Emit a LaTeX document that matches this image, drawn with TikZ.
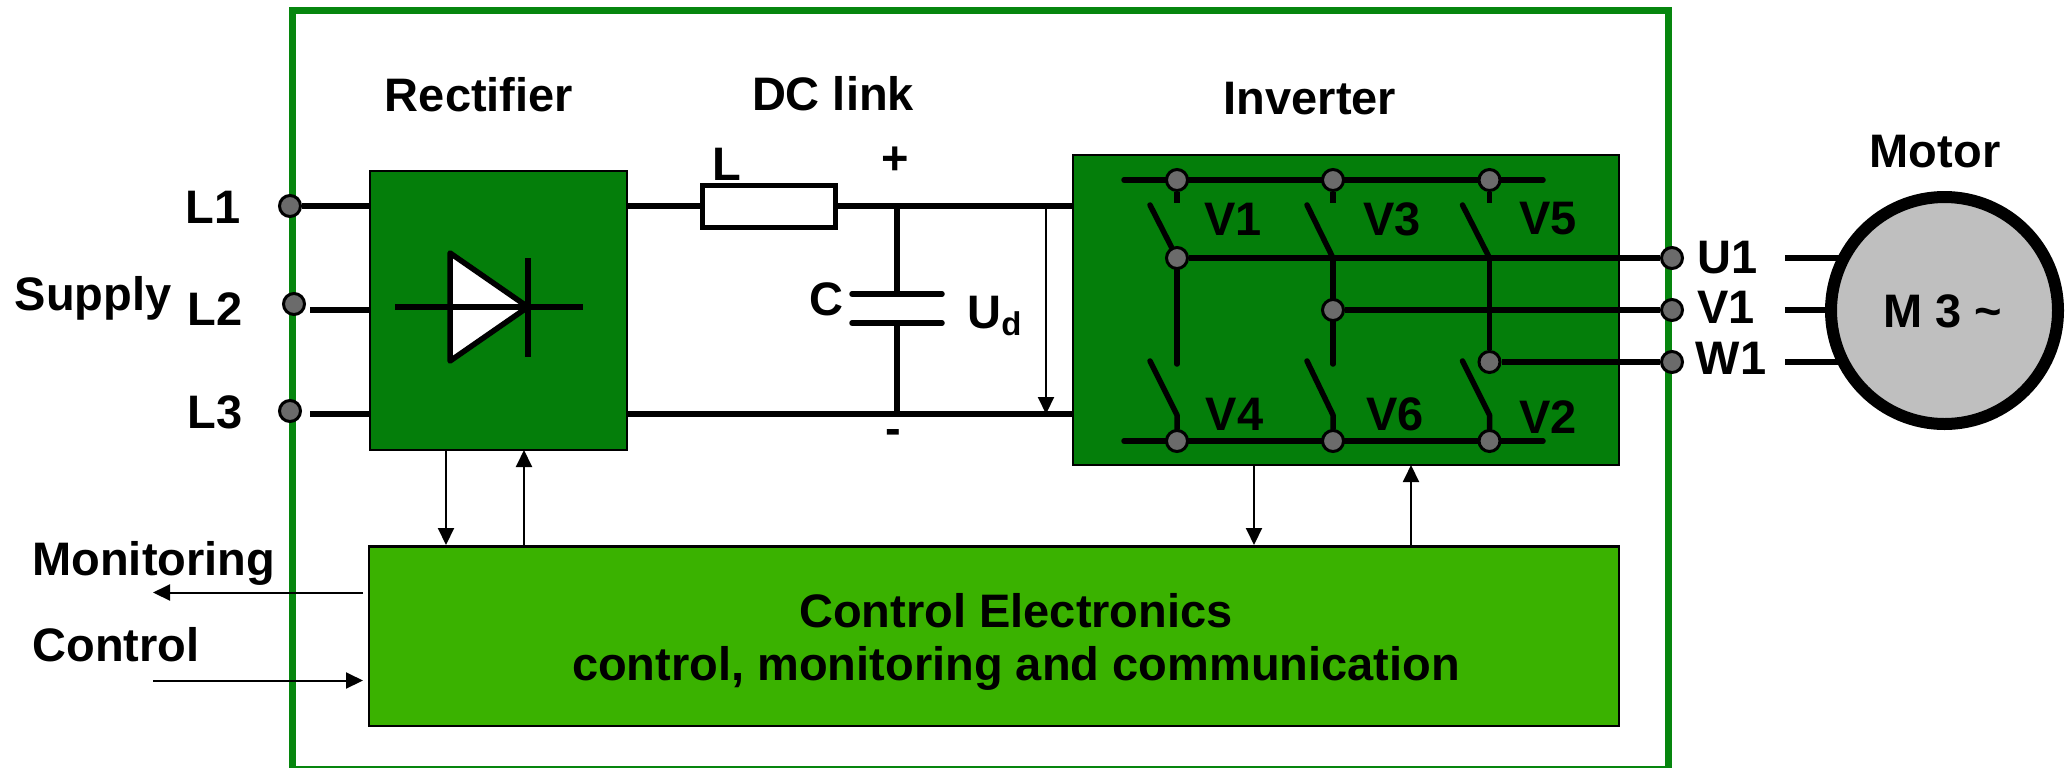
\documentclass[tikz,border=0pt]{standalone}
\usepackage{fontspec}
\setmainfont{Liberation Sans}
\usetikzlibrary{arrows.meta,calc,positioning}

\definecolor{frameGreen}{RGB}{6,134,14}
\definecolor{unitGreen}{RGB}{4,126,10}
\definecolor{ctrlGreen}{RGB}{58,178,0}

\pgfdeclarelayer{blocks}
\pgfdeclarelayer{wires}
\pgfsetlayers{blocks,wires,main}

\begin{document}
\begin{tikzpicture}[x=0.5pt,y=-0.5pt,>=Stealth]
  % --- Unified styles ---
    \tikzset{
      unit/.style    = {rectangle,draw=black,fill=unitGreen,line width=1.25pt,inner sep=0pt},
      ctrl/.style    = {rectangle,draw=black,fill=ctrlGreen,line width=1.25pt,inner sep=0pt},
      term/.style    = {circle,draw=black,fill=black!58,line width=1.5pt,inner sep=0pt,minimum size=10.5pt},
      wire/.style    = {line width=2.75pt},
      sig/.style     = {-{Triangle[length=8.5pt,width=8pt]},line width=1pt},
      lab/.style     = {font=\fontsize{23.5}{26.5}\selectfont\bfseries,inner sep=0pt,align=center}
    }
    \useasboundingbox (0,0) rectangle (2067,767);

    % --- Outer frame and main blocks ---
    \begin{pgfonlayer}{blocks}
    \draw[frameGreen,line width=3.25pt] (292.5,10.5) rectangle (1668.5,769);
    \node[unit,minimum width=128.5pt,minimum height=139.5pt] (rect) at (498.5,310.5) {};
    \node[unit,minimum width=273pt,minimum height=155pt] (inv) at (1346,310) {};
    \node[ctrl,minimum width=625pt,minimum height=89.75pt] (ctl) at (994,636) {};
    \end{pgfonlayer}

    \node[circle,draw=black,fill=black!25,line width=6pt,inner sep=0pt,minimum size=113.5pt] (motor) at (1944.5,310.5) {};

    % --- Terminals ---
    \node[term] (tL1) at (290,206) {};
    \node[term] (tL2) at (294,304) {};
    \node[term] (tL3) at (290,411) {};
    \node[term] (v1top) at (1177,180) {};
    \node[term] (v3top) at (1333,180) {};
    \node[term] (v5top) at (1489.5,180) {};
    \node[term] (v4bot) at (1177,441) {};
    \node[term] (v6bot) at (1333,441) {};
    \node[term] (v2bot) at (1489.5,441) {};
    \node[term] (uMid) at (1177,258) {};
    \node[term] (vMid) at (1333,310) {};
    \node[term] (wMid) at (1489.5,362) {};
    \node[term] (tU) at (1672,258) {};
    \node[term] (tV) at (1672,310) {};
    \node[term] (tW) at (1672,362) {};

    % --- Choke ---
    \node[draw=black,fill=white,line width=2.5pt,inner sep=0pt,minimum width=66.5pt,minimum height=21pt] (choke) at (768.5,206) {};

    % --- Named points ---
    \coordinate (tL2w) at (310,310);
    \coordinate (tL3w) at (310,414);
    \coordinate (dA) at (450,253);
    \coordinate (dB) at (450,361);
    \coordinate (dK) at (528,307);
    \coordinate (dIn) at (395,307);
    \coordinate (dOut) at (583,307);
    \coordinate (dT) at (528,258);
    \coordinate (dD) at (528,357);
    \coordinate (capT) at (897,294);
    \coordinate (capB) at (897,323);
    \coordinate (railT) at (897,206);
    \coordinate (railB) at (897,414);
    \coordinate (capTl) at (852,294);
    \coordinate (capTr) at (942,294);
    \coordinate (capBl) at (852,323);
    \coordinate (capBr) at (942,323);
    \coordinate (udT) at (1046,206);
    \coordinate (udB) at (1046,414);
    \coordinate (busTl) at (1124,180);
    \coordinate (busTr) at (1543,180);
    \coordinate (busBl) at (1124,441);
    \coordinate (busBr) at (1543,441);
    \coordinate (v1stub) at (1177,203);
    \coordinate (v3stub) at (1333,203);
    \coordinate (v5stub) at (1489.5,203);
    \coordinate (v3j) at (1333,258);
    \coordinate (v5j) at (1489.5,258);
    \coordinate (v1end) at (1177,364);
    \coordinate (v3end) at (1333,364);
    \coordinate (v1bl) at (1150,205);
    \coordinate (v3bl) at (1307,205);
    \coordinate (v5bl) at (1462.5,205);
    \coordinate (v4bl) at (1150,361);
    \coordinate (v6bl) at (1307,361);
    \coordinate (v2bl) at (1462.5,361);
    \coordinate (v4kn) at (1177,415);
    \coordinate (v6kn) at (1333,415);
    \coordinate (v2kn) at (1489.5,415);
    \coordinate (mU) at (1785,258);
    \coordinate (mV) at (1785,310);
    \coordinate (mW) at (1785,362);
    \coordinate (monOut) at (153,592.5);
    \coordinate (monIn) at (363,592.5);
    \coordinate (conIn) at (153,680.5);
    \coordinate (conOut) at (363,680.5);
    \coordinate (rectA) at (446,450);
    \coordinate (rectB) at (524,450);
    \coordinate (invA) at (1254,465);
    \coordinate (invB) at (1411,465);

    \begin{pgfonlayer}{wires}
    % --- Supply wires ---
    \draw[wire] (tL1) -- (tL1 -| rect.west);
    \draw[wire] (tL2w) -- (tL2w -| rect.west);
    \draw[wire] (tL3w) -- (tL3w -| rect.west);

    % --- Diode symbol ---
    \draw[wire,fill=white,line join=round] (dA) -- (dK) -- (dB) -- cycle;
    \draw[wire] (dIn) -- (dOut);
    \draw[wire] (dT) -- (dD);

    % --- DC link ---
    \draw[wire] (rect.east |- choke) -- (choke);
    \draw[wire] (choke) -- (choke -| inv.west);
    \draw[wire] (railB -| rect.east) -- (railB -| inv.west);
    \draw[wire] (railT) -- (capT);
    \draw[wire] (capB) -- (railB);
    \draw[wire,line cap=round] (capTl) -- (capTr);
    \draw[wire,line cap=round] (capBl) -- (capBr);

    % --- Inverter wiring ---
    \draw[wire,line cap=round] (busTl) -- (busTr);
    \draw[wire,line cap=round] (busBl) -- (busBr);
    \draw[wire] (v1top) -- (v1stub);
    \draw[wire] (v3top) -- (v3stub);
    \draw[wire] (v5top) -- (v5stub);
    \draw[wire] (uMid) -- (tU);
    \draw[wire] (vMid) -- (tV);
    \draw[wire] (wMid) -- (tW);
    \draw[wire,line cap=round] (uMid) -- (v1end);
    \draw[wire,line cap=round] (v3j) -- (v3end);
    \draw[wire] (v5j) -- (wMid);

    % --- Switch blades ---
    \draw[wire,line cap=round] (v1bl) -- (uMid);
    \draw[wire,line cap=round] (v3bl) -- (v3j);
    \draw[wire,line cap=round] (v5bl) -- (v5j);
    \draw[wire,line cap=round,line join=round] (v4bl) -- (v4kn) -- (v4bot);
    \draw[wire,line cap=round,line join=round] (v6bl) -- (v6kn) -- (v6bot);
    \draw[wire,line cap=round,line join=round] (v2bl) -- (v2kn) -- (v2bot);

    % --- Motor leads ---
    \draw[wire] (mU) -- (mU -| motor.center);
    \draw[wire] (mV) -- (mV -| motor.center);
    \draw[wire] (mW) -- (mW -| motor.center);
    \end{pgfonlayer}

    % --- Signal arrows ---
    \draw[sig] (udT) -- (udB);
    \draw[sig] (rectA) -- (rectA |- ctl.north);
    \draw[sig] (rectB |- ctl.north) -- (rectB);
    \draw[sig] (invA) -- (invA |- ctl.north);
    \draw[sig] (invB |- ctl.north) -- (invB);
    \draw[sig] (monIn) -- (monOut);
    \draw[sig] (conIn) -- (conOut);

    % --- Labels ---
    \node[lab] (labCtl) at (1016,642) {Control Electronics\\control, monitoring and communication};
    \node[lab] (labM3) at (1943,311) {M 3 \textasciitilde};
    \node[lab] (labRect) at (479,95) {Rectifier};
    \node[lab] (labDC) at (833,94) {DC link};
    \node[lab] (labInv) at (1310,99) {Inverter};
    \node[lab] (labMotor) at (1935,152) {Motor};
    \node[lab] (labL1) at (213,207) {L1};
    \node[lab] (labL2) at (215,309) {L2};
    \node[lab] (labL3) at (215,412) {L3};
    \node[lab] (labSup) at (93,298) {Supply};
    \node[lab,anchor=west] (labMon) at (32,563) {Monitoring};
    \node[lab,anchor=west] (labCon) at (32,645) {Control};
    \node[lab] (labL) at (727,164) {L};
    \node[lab] (labPlus) at (895,161) {+};
    \node[lab] (labMinus) at (893,437) {-};
    \node[lab] (labC) at (826,299) {C};
    \node[lab] (labUd) at (995,316) {U\textsubscript{d}};
    \node[lab] (labV1) at (1233,219) {V1};
    \node[lab] (labV3) at (1392,219) {V3};
    \node[lab] (labV5) at (1548,219) {V5};
    \node[lab] (labV4) at (1234.5,414) {V4};
    \node[lab] (labV6) at (1395,414) {V6};
    \node[lab] (labV2) at (1548,417) {V2};
    \node[lab] (labU) at (1728,258) {U1};
    \node[lab] (labVo) at (1726,307) {V1};
    \node[lab] (labW) at (1731,358) {W1};

\end{tikzpicture}
\end{document}
